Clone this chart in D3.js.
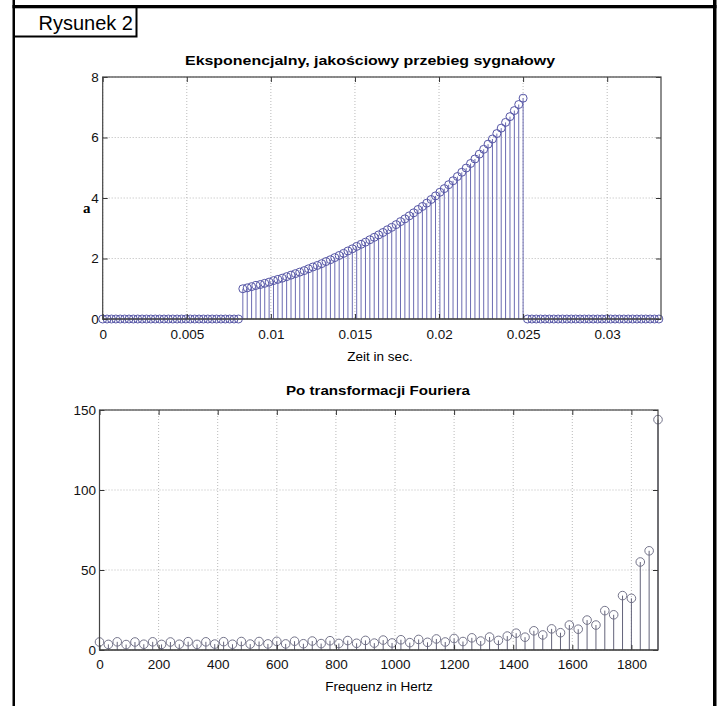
<!DOCTYPE html>
<html>
<head>
<meta charset="utf-8">
<script src="https://cdn.jsdelivr.net/npm/d3@7"></script>
<style>
  body { margin: 0; background: #fff; }
  svg { display: block; font-family: "Liberation Sans", Arial, sans-serif; }
  .tick text { font-size: 13.5px; fill: #111; }
</style>
</head>
<body>
<script>
// signal samples (fs = 3840 Hz, 128 samples)
var sampleRate = 3840;
var signal = [
  0, 0, 0, 0, 0, 0, 0, 0, 0, 0, 0, 0, 0, 0, 0, 0,
  0, 0, 0, 0, 0, 0, 0, 0, 0, 0, 0, 0, 0, 0, 0, 0,
  1.00, 1.03, 1.07, 1.11, 1.14, 1.18, 1.22, 1.27, 1.31, 1.35, 1.40, 1.45, 1.50, 1.55, 1.60, 1.66,
  1.72, 1.77, 1.83, 1.90, 1.96, 2.03, 2.10, 2.17, 2.25, 2.32, 2.40, 2.47, 2.54, 2.62, 2.70, 2.78,
  2.86, 2.95, 3.03, 3.12, 3.22, 3.31, 3.41, 3.51, 3.62, 3.72, 3.83, 3.95, 4.07, 4.19, 4.31, 4.44,
  4.57, 4.71, 4.85, 4.99, 5.14, 5.29, 5.45, 5.61, 5.78, 5.95, 6.13, 6.31, 6.50, 6.69, 6.89, 7.09,
  7.30, 0, 0, 0, 0, 0, 0, 0, 0, 0, 0, 0, 0, 0, 0, 0,
  0, 0, 0, 0, 0, 0, 0, 0, 0, 0, 0, 0, 0, 0, 0, 0
];
var timeTicks = [0, 0.005, 0.01, 0.015, 0.02, 0.025, 0.03];
var signalTicks = [0, 2, 4, 6, 8];

// spectrum magnitude, one bin every 30 Hz
var binStep = 30;
var spectrum = [
  5.0, 3.5, 5.1, 3.4, 5.0, 3.6, 5.1, 3.5, 5.0, 3.6, 5.2, 3.5, 5.1, 3.7, 5.2, 3.6,
  5.3, 3.7, 5.3, 3.8, 5.4, 3.8, 5.5, 3.9, 5.6, 4.0, 5.8, 4.1, 5.9, 4.2, 6.0, 4.3,
  6.2, 4.4, 6.4, 4.6, 6.6, 4.8, 6.9, 5.0, 7.2, 5.3, 7.6, 5.6, 8.1, 6.0, 8.7, 10.5,
  8.0, 12.0, 9.4, 13.2, 10.8, 15.6, 13.0, 18.7, 15.6, 24.6, 22.0, 34.0, 32.3, 55.0, 62.0, 144.0
];
var freqTicks = [0, 200, 400, 600, 800, 1000, 1200, 1400, 1600, 1800];
var magTicks = [0, 50, 100, 150];

var W = 720, H = 706;
var svg = d3.select("body").append("svg").attr("width", W).attr("height", H);
svg.append("rect").attr("width", W).attr("height", H).attr("fill", "#fff");

// page frame
svg.append("rect").attr("x", 12.5).attr("y", 0).attr("width", 2.5).attr("height", H).attr("fill", "#000");
svg.append("rect").attr("x", 713).attr("y", 0).attr("width", 3.5).attr("height", H).attr("fill", "#000");
svg.append("rect").attr("x", 12.5).attr("y", 5).attr("width", 704).attr("height", 3.3).attr("fill", "#000");
svg.append("rect").attr("x", 14).attr("y", 7).attr("width", 122.5).attr("height", 29.5)
  .attr("fill", "none").attr("stroke", "#000").attr("stroke-width", 2);
svg.append("text").attr("x", 133).attr("y", 30).attr("text-anchor", "end")
  .style("font-size", "20px").text("Rysunek 2");
svg.append("text").attr("x", 83).attr("y", 213)
  .style("font-family", "'Liberation Serif', serif").style("font-size", "15px").style("font-weight", "bold")
  .text("a");

function stemPlot(o) {
  var g = svg.append("g");
  var x = d3.scaleLinear().domain(o.xDomain).range([o.left, o.right]);
  var y = d3.scaleLinear().domain(o.yDomain).range([o.bottom, o.top]);

  // dotted grid
  g.selectAll(".gx").data(o.xTicks).enter().append("line")
    .attr("x1", d => x(d)).attr("x2", d => x(d)).attr("y1", o.top).attr("y2", o.bottom)
    .attr("stroke", "#a8a8a8").attr("stroke-width", 0.8).attr("stroke-dasharray", "1,2");
  g.selectAll(".gy").data(o.yTicks).enter().append("line")
    .attr("x1", o.left).attr("x2", o.right).attr("y1", d => y(d)).attr("y2", d => y(d))
    .attr("stroke", "#a8a8a8").attr("stroke-width", 0.8).attr("stroke-dasharray", "1,2");

  // stems + markers
  g.selectAll(".stem").data(o.values).enter().append("line")
    .attr("x1", (d, i) => x(o.xOf(i))).attr("x2", (d, i) => x(o.xOf(i)))
    .attr("y1", y(0)).attr("y2", d => y(d))
    .attr("stroke", o.stemColor).attr("stroke-width", 1);
  g.append("line").attr("x1", x(o.xOf(0))).attr("x2", x(o.xOf(o.values.length - 1)))
    .attr("y1", y(0)).attr("y2", y(0)).attr("stroke", "#333").attr("stroke-width", 1.2);
  g.selectAll(".mk").data(o.values).enter().append("circle")
    .attr("cx", (d, i) => x(o.xOf(i))).attr("cy", d => y(d)).attr("r", o.r)
    .attr("fill", "none").attr("stroke", o.markColor).attr("stroke-width", 1);

  // axes, MATLAB style ticks pointing inward
  g.append("g").attr("transform", "translate(0," + o.bottom + ")")
    .call(d3.axisBottom(x).tickValues(o.xTicks).tickSize(-5).tickPadding(o.xPad).tickFormat(o.xFmt));
  g.append("g").attr("transform", "translate(0," + o.top + ")")
    .call(d3.axisTop(x).tickValues(o.xTicks).tickSize(-5).tickFormat(""));
  g.append("g").attr("transform", "translate(" + o.left + ",0)")
    .call(d3.axisLeft(y).tickValues(o.yTicks).tickSize(-5).tickPadding(o.yPad));
  g.append("g").attr("transform", "translate(" + o.right + ",0)")
    .call(d3.axisRight(y).tickValues(o.yTicks).tickSize(-5).tickFormat(""));
  g.selectAll(".domain").remove();
  g.selectAll(".tick line").attr("stroke", "#333");
  g.append("rect").attr("x", o.left).attr("y", o.top)
    .attr("width", o.right - o.left).attr("height", o.bottom - o.top)
    .attr("fill", "none").attr("stroke", "#444").attr("stroke-width", 1.2);

  g.append("text").attr("x", o.titleX).attr("y", o.titleY).attr("text-anchor", "middle")
    .style("font-size", "13px").style("font-weight", "bold")
    .attr("textLength", o.titleLen).attr("lengthAdjust", "spacingAndGlyphs")
    .text(o.title);
  g.append("text").attr("x", o.labelX).attr("y", o.labelY).attr("text-anchor", "middle")
    .style("font-size", "13.5px").text(o.xLabel);
}

stemPlot({
  values: signal, xOf: i => i / sampleRate,
  xDomain: [0, 0.0332], yDomain: [0, 8],
  left: 102.7, right: 661, top: 77, bottom: 319,
  xTicks: timeTicks, yTicks: signalTicks, xFmt: d => String(d),
  xPad: 10, yPad: 4, r: 4,
  stemColor: "#6c6cb2", markColor: "#5656a6",
  title: "Eksponencjalny, jakościowy przebieg sygnałowy", titleX: 370, titleY: 65, titleLen: 370,
  xLabel: "Zeit in sec.", labelX: 380, labelY: 361
});

stemPlot({
  values: spectrum, xOf: i => i * binStep,
  xDomain: [0, 1890], yDomain: [0, 150],
  left: 99.5, right: 658, top: 410, bottom: 650,
  xTicks: freqTicks, yTicks: magTicks, xFmt: d => String(d),
  xPad: 9, yPad: 3.5, r: 4.3,
  stemColor: "#64647a", markColor: "#74748a",
  title: "Po transformacji Fouriera", titleX: 378, titleY: 395, titleLen: 184,
  xLabel: "Frequenz in Hertz", labelX: 379, labelY: 691
});
</script>
</body>
</html>
